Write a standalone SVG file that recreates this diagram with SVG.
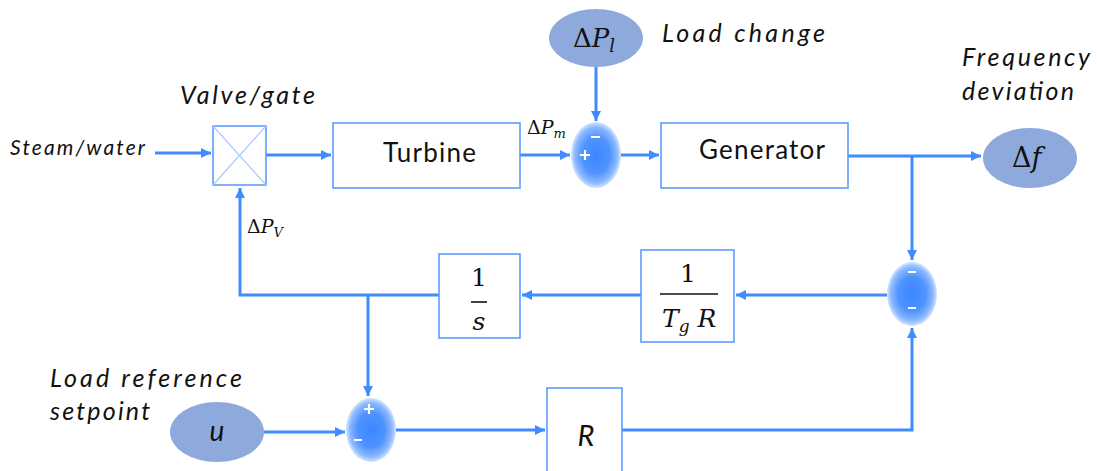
<svg xmlns="http://www.w3.org/2000/svg" width="1097" height="471" viewBox="0 0 1097 471">
<style>
.box{fill:#fff;stroke:#5c9dff;stroke-width:1.6}
.lbl{font-family:Lato,"Open Sans",sans-serif;font-style:italic;fill:#111}
.blk{font-family:Lato,"Open Sans",sans-serif;fill:#111}
.math{font-family:"DejaVu Serif","Liberation Serif",serif;fill:#111}
.it{font-style:italic}
.in{fill:#8eaadc}
.sum{fill:url(#sg)}
.wire{fill:none;stroke:#3f8bff;stroke-width:3}
.sign{stroke:#fff;stroke-width:2.2;fill:none}
</style>
<defs>
<radialGradient id="sg" cx="0.5" cy="0.5" r="0.5">
<stop offset="0" stop-color="#3c86ff"/>
<stop offset="0.55" stop-color="#4f93ff"/>
<stop offset="0.85" stop-color="#8dbaff"/>
<stop offset="1" stop-color="#d4e5ff"/>
</radialGradient>
<marker id="ah" viewBox="0 0 10 10" refX="10" refY="5" markerWidth="10" markerHeight="10" markerUnits="userSpaceOnUse" orient="auto">
<path d="M0,0 L10,5 L0,10 z" fill="#3f8bff"/>
</marker>
</defs>
<rect width="1097" height="471" fill="#fff"/>

<g id="connectors">
<path class="wire" d="M155,153 H211" marker-end="url(#ah)"/>
<path class="wire" d="M266,155 H331" marker-end="url(#ah)"/>
<path class="wire" d="M520,155 H570" marker-end="url(#ah)"/>
<path class="wire" d="M596,67 V121" marker-end="url(#ah)"/>
<path class="wire" d="M621,155 H659" marker-end="url(#ah)"/>
<path class="wire" d="M848,156 H981" marker-end="url(#ah)"/>
<path class="wire" d="M912,156 V260" marker-end="url(#ah)"/>
<path class="wire" d="M887,295 H736" marker-end="url(#ah)"/>
<path class="wire" d="M641,295 H522" marker-end="url(#ah)"/>
<path class="wire" d="M439,295 H240 V188" marker-end="url(#ah)"/>
<path class="wire" d="M368,295 V396" marker-end="url(#ah)"/>
<path class="wire" d="M264,432 H345" marker-end="url(#ah)"/>
<path class="wire" d="M396,430 H545" marker-end="url(#ah)"/>
<path class="wire" d="M622,430 H912 V328" marker-end="url(#ah)"/>
</g>

<g id="steam-label"><text class="lbl" x="10" y="155" style="font-size:21px" textLength="135">Steam/water</text></g>

<g id="valve">
<text class="lbl" x="180" y="104" style="font-size:25px" textLength="135">Valve/gate</text>
<rect class="box" x="213" y="126" width="53" height="59"/>
<path d="M213,126 L266,185 M266,126 L213,185" stroke="#a8c8ff" stroke-width="1.2"/>
<text class="math" x="247" y="233" style="font-size:19px"><tspan>Δ</tspan><tspan class="it">P</tspan><tspan class="it" style="font-size:13px" dy="4">V</tspan></text>
</g>

<g id="turbine">
<rect class="box" x="333" y="123" width="187" height="65"/>
<text class="blk" x="383" y="162" style="font-size:26px" textLength="93">Turbine</text>
<text class="math" x="527" y="134" style="font-size:19px"><tspan>Δ</tspan><tspan class="it">P</tspan><tspan class="it" style="font-size:13px" dy="4">m</tspan></text>
</g>

<g id="load-change">
<ellipse class="in" cx="596" cy="38" rx="47" ry="29"/>
<text class="math" x="573" y="47" style="font-size:26px"><tspan>Δ</tspan><tspan class="it">P</tspan><tspan class="it" style="font-size:18px" dy="5">l</tspan></text>
<text class="lbl" x="662" y="42" style="font-size:25px" textLength="163">Load change</text>
</g>

<g id="sum1">
<ellipse class="sum" cx="596" cy="155" rx="25" ry="33"/>
<path class="sign" d="M591,137 H600 M580,155 H590 M585,150 V160"/>
</g>

<g id="generator">
<rect class="box" x="661" y="123" width="187" height="65"/>
<text class="blk" x="699" y="159" style="font-size:26px" textLength="126">Generator</text>
</g>

<g id="freq-dev">
<text class="lbl" x="962" y="66" style="font-size:25px" textLength="128">Frequency</text>
<text class="lbl" x="962" y="100" style="font-size:25px" textLength="112">deviation</text>
<ellipse class="in" cx="1030" cy="158" rx="47" ry="30"/>
<text class="math" x="1012" y="167" style="font-size:27px"><tspan>Δ</tspan><tspan class="it">f</tspan></text>
</g>

<g id="sum3">
<ellipse class="sum" cx="912" cy="294" rx="25" ry="32"/>
<path class="sign" d="M908,272 H916 M908,308 H916"/>
</g>

<g id="gain-tgr">
<rect class="box" x="641" y="250" width="93" height="92"/>
<text class="math" x="688" y="282" style="font-size:25px" text-anchor="middle">1</text>
<path d="M660,294 H718" stroke="#111" stroke-width="1.6"/>
<text class="math it" x="662" y="327" style="font-size:25px">T<tspan style="font-size:17px" dy="5">g</tspan><tspan dy="-5"> R</tspan></text>
</g>

<g id="integrator">
<rect class="box" x="439" y="254" width="81" height="84"/>
<text class="math" x="479" y="286" style="font-size:25px" text-anchor="middle">1</text>
<path d="M471,302 H487" stroke="#111" stroke-width="1.6"/>
<text class="math it" x="479" y="330" style="font-size:25px" text-anchor="middle">s</text>
</g>

<g id="load-ref">
<text class="lbl" x="50" y="387" style="font-size:25px" textLength="192">Load reference</text>
<text class="lbl" x="50" y="420" style="font-size:25px" textLength="100">setpoint</text>
<ellipse class="in" cx="217" cy="432" rx="47" ry="30"/>
<text class="lbl" x="217" y="441" style="font-size:28px" text-anchor="middle">u</text>
</g>

<g id="sum2">
<ellipse class="sum" cx="371" cy="430" rx="25" ry="32"/>
<path class="sign" d="M364,409 H374 M369,404 V414 M354,440 H362"/>
</g>

<g id="gain-r">
<rect class="box" x="547" y="388" width="75" height="90"/>
<text class="lbl" x="586" y="446" style="font-size:29px" text-anchor="middle">R</text>
</g>
</svg>
